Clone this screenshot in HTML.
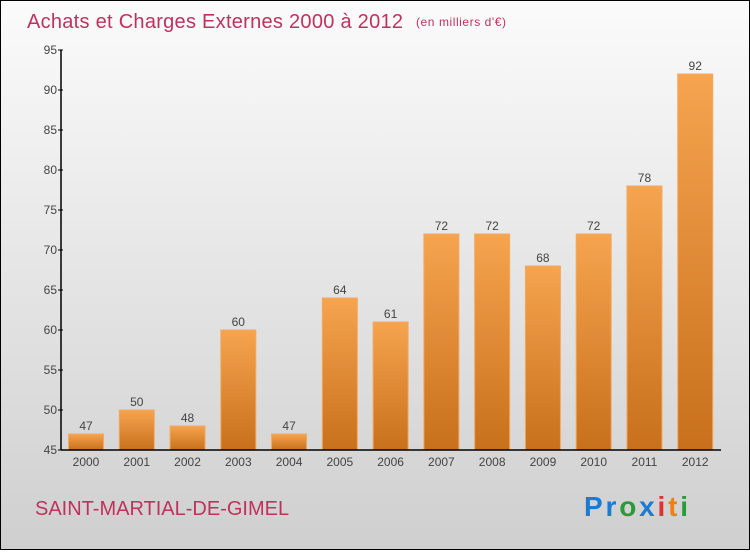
<!DOCTYPE html>
<html><head><meta charset="utf-8"><style>
body{margin:0;width:750px;height:550px;overflow:hidden;font-family:"Liberation Sans",sans-serif}
#c{position:absolute;left:0;top:0;width:748px;height:548px;border:1px solid #000;background:linear-gradient(#fbfbfb,#cfcfcf)}
</style></head><body>
<div id="c">
<svg width="748" height="548">
<defs><linearGradient id="g" x1="0" y1="0" x2="0" y2="1"><stop offset="0" stop-color="#f6a44f"/><stop offset="1" stop-color="#c8701c"/></linearGradient></defs>
<text x="26" y="27" font-size="20" fill="#c0325e" textLength="376">Achats et Charges Externes 2000 à 2012</text>
<text x="415" y="25" font-size="12" fill="#c0325e" textLength="90">(en milliers d'€)</text>
<g id="plot"></g>
<text x="34" y="514" font-size="20" fill="#c0325e">SAINT-MARTIAL-DE-GIMEL</text>
<text x="583" y="515" font-size="28" font-weight="bold" textLength="104"><tspan fill="#1a7ad4">Pr</tspan><tspan fill="#2a9a3a">o</tspan><tspan fill="#1a7ad4">x</tspan><tspan fill="#e03030">i</tspan><tspan fill="#f08010">t</tspan><tspan fill="#2a9a3a">i</tspan></text>
</svg></div>
<script>
const years=["2000","2001","2002","2003","2004","2005","2006","2007","2008","2009","2010","2011","2012"];
const values=[47,50,48,60,47,64,61,72,72,68,72,78,92];
const yTicks=[45,50,55,60,65,70,75,80,85,90,95];
const NS="http://www.w3.org/2000/svg";
const g=document.getElementById('plot');
const x0=60,x1=720,y0=449,yMin=45,yMax=95,yTop=49;
const step=(x1-x0)/years.length;
const y=v=>y0-(v-yMin)/(yMax-yMin)*(y0-yTop);
function mk(t,a){const e=document.createElementNS(NS,t);for(const k in a)e.setAttribute(k,a[k]);g.appendChild(e);return e;}
years.forEach((yr,i)=>{
 const bx=x0+i*step+7.5,bw=35;
 const r=mk('rect',{x:bx,y:y(values[i]),width:bw,height:y0-y(values[i]),fill:'url(#g)',stroke:'#f4a860','stroke-width':1});
 
 
 const t=mk('text',{x:bx+bw/2,y:y(values[i])-4,'font-size':12,fill:'#444','text-anchor':'middle'});t.textContent=values[i];
 
 
 const l=mk('text',{x:bx+bw/2,y:y0+16,'font-size':12,fill:'#444','text-anchor':'middle'});l.textContent=yr;
 
 
});
yTicks.forEach(v=>{
 mk('line',{x1:x0-3,x2:x0+2,y1:y(v),y2:y(v),stroke:'#000'});
 const t=mk('text',{x:x0-4,y:y(v)+4,'font-size':12,fill:'#444','text-anchor':'end'});t.textContent=v;
 
 
});
const ya=mk('line',{x1:x0,x2:x0,y1:yTop,y2:y0,stroke:'#000','stroke-width':1.5});


const xa=mk('line',{x1:x0,x2:x1,y1:y0,y2:y0,stroke:'#000','stroke-width':1.5});


</script>
</body></html>
